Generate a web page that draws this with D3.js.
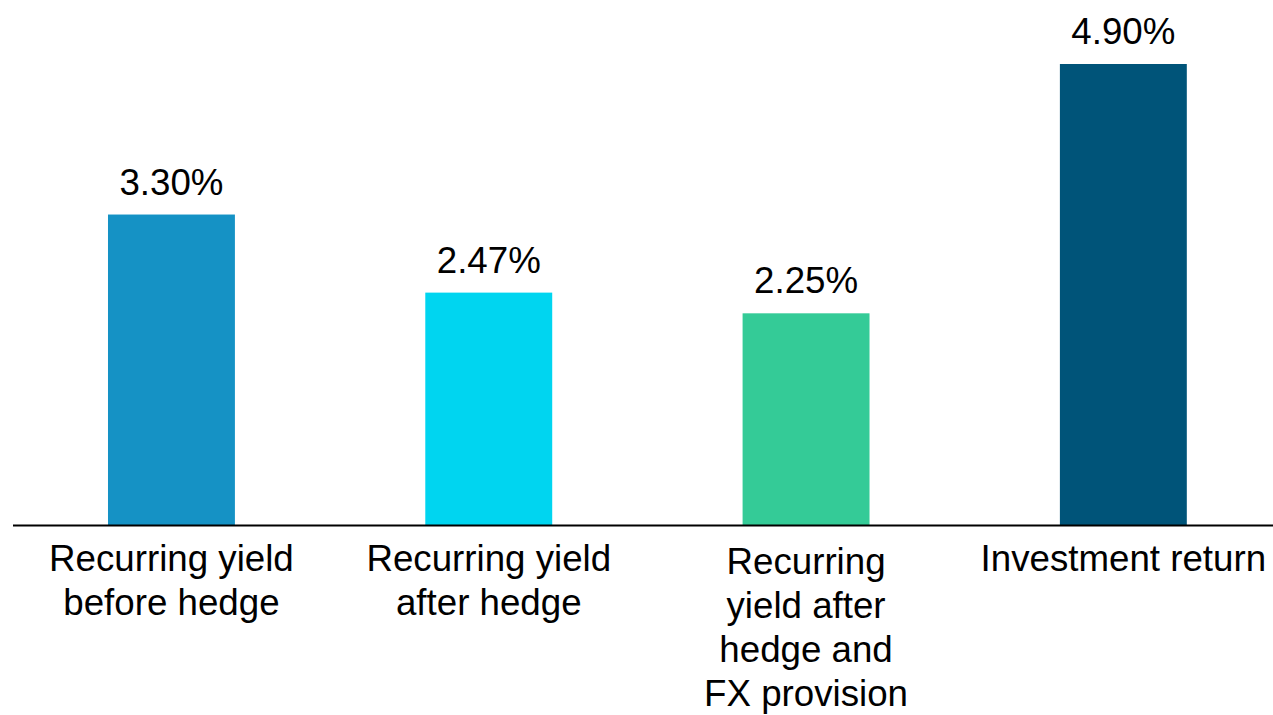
<!DOCTYPE html>
<html><head><meta charset="utf-8">
<script src="https://cdn.jsdelivr.net/npm/d3@7"></script>
<style>body{margin:0;background:#fff;} svg{display:block;}</style>
</head><body>
<svg id="chart" width="1273" height="715"></svg>
<script>
const categories = [
  ["Recurring yield", "before hedge"],
  ["Recurring yield", "after hedge"],
  ["Recurring", "yield after", "hedge and", "FX provision"],
  ["Investment return"]
];
const values = [3.30, 2.47, 2.25, 4.90];
const valueLabels = ["3.30%", "2.47%", "2.25%", "4.90%"];
const colors = ["#1592C5", "#00D5F0", "#34CB97", "#005479"];

const svg = d3.select("#chart");
const font = "'Liberation Sans', Arial, sans-serif";
const fs = 36.7;

const x = d3.scaleBand().domain(d3.range(values.length)).range([12.8, 1282]).paddingInner(0.6).paddingOuter(0.3);
const y = d3.scaleLinear().domain([0, 4.9]).range([525, 64]);

svg.selectAll("rect.bar").data(values).join("rect")
  .attr("class", "bar")
  .attr("x", (d, i) => x(i))
  .attr("width", x.bandwidth())
  .attr("y", d => y(d))
  .attr("height", d => y(0) - y(d))
  .attr("fill", (d, i) => colors[i]);

svg.selectAll("text.val").data(values).join("text")
  .attr("class", "val")
  .attr("x", (d, i) => x(i) + x.bandwidth() / 2)
  .attr("y", d => y(d) - 20)
  .attr("text-anchor", "middle")
  .attr("font-family", font)
  .attr("font-size", fs)
  .attr("fill", "#000")
  .text((d, i) => valueLabels[i]);

svg.append("line")
  .attr("x1", 13).attr("x2", 1273)
  .attr("y1", y(0) + 0.5).attr("y2", y(0) + 0.5)
  .attr("stroke", "#000").attr("stroke-width", 2);

const lab = svg.selectAll("text.cat").data(categories).join("text")
  .attr("class", "cat")
  .attr("text-anchor", "middle")
  .attr("font-family", font)
  .attr("font-size", fs)
  .attr("fill", "#000");
lab.each(function(lines, i) {
  const t = d3.select(this);
  const cx = x(i) + x.bandwidth() / 2;
  const startY = y(0) + 46 + (lines.length > 3 ? 3 : 0);
  lines.forEach((ln, j) => {
    t.append("tspan").attr("x", cx).attr("y", startY + j * 44).text(ln);
  });
});
</script>
</body></html>
